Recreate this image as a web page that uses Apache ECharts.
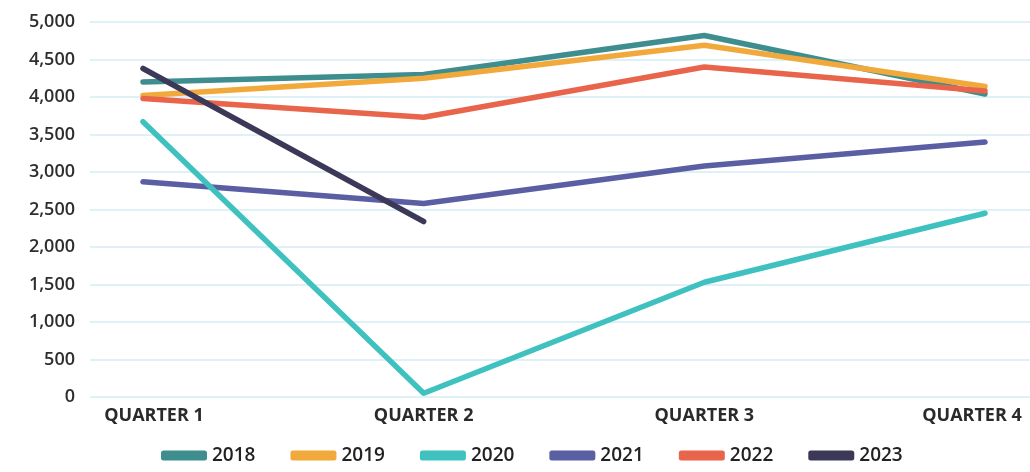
<!DOCTYPE html>
<html>
<head>
<meta charset="utf-8">
<script src="https://cdn.jsdelivr.net/npm/echarts@6/dist/echarts.min.js"></script>
<style>
html,body{margin:0;padding:0;background:#fff;}
#chart{width:1030px;height:472px;}
</style>
</head>
<body>
<div id="chart"></div>
<script>
var categories = ['QUARTER 1', 'QUARTER 2', 'QUARTER 3', 'QUARTER 4'];
var seriesNames = ['2018', '2019', '2020', '2021', '2022', '2023'];
var v2018 = [4200, 4300, 4820, 4040];
var v2019 = [4020, 4250, 4690, 4140];
var v2020 = [3670, 50, 1530, 2450];
var v2021 = [2870, 2580, 3080, 3400];
var v2022 = [3980, 3730, 4400, 4080];
var v2023 = [4380, 2340];
var yTicks = [0, 500, 1000, 1500, 2000, 2500, 3000, 3500, 4000, 4500, 5000];

var colors = ['#3e8e8f', '#f2a93b', '#3fc1c0', '#5a5fa3', '#e8654b', '#3c3958'];
var values = [v2018, v2019, v2020, v2021, v2022, v2023];
var zs = [2, 2, 4, 3, 3, 5];

var font = '"Open Sans", "Noto Sans", sans-serif';
var yMin = yTicks[0], yMax = yTicks[yTicks.length - 1], yInt = yTicks[1] - yTicks[0];

var series = seriesNames.map(function (n, i) {
  return {
    name: n, type: 'line', xAxisIndex: 1, yAxisIndex: 1,
    data: values[i], symbol: 'none', z: zs[i],
    lineStyle: { width: 5.5, color: colors[i], cap: 'round', join: 'round' },
    itemStyle: { color: colors[i] }
  };
});

var chart = echarts.init(document.getElementById('chart'), null, { renderer: 'canvas' });
chart.setOption({
  animation: false,
  backgroundColor: '#ffffff',
  color: colors,
  grid: [
    { left: 90, right: 0, top: 22, bottom: 75 },
    { left: 143, right: 45, top: 22, bottom: 75 }
  ],
  legend: {
    data: seriesNames,
    bottom: 2, left: 156,
    icon: 'roundRect', itemWidth: 46, itemHeight: 10, itemGap: 35,
    textStyle: { fontFamily: font, fontSize: 19, color: '#222', fontWeight: 600 }
  },
  xAxis: [
    { type: 'category', gridIndex: 0, show: false, data: categories },
    {
      type: 'category', gridIndex: 1, boundaryGap: false,
      data: categories.map(function (c, i) {
        var pad = [0, 0, 0, 0];
        if (i === 0) pad = [0, 0, 0, 22];
        if (i === categories.length - 1) pad = [0, 26, 0, 0];
        return { value: c, textStyle: { padding: pad } };
      }),
      axisLine: { show: false }, axisTick: { show: false },
      splitLine: { show: false },
      axisLabel: { fontFamily: font, fontSize: 18, fontWeight: 700, color: '#2a2a2a', margin: 10 }
    }
  ],
  yAxis: [
    {
      type: 'value', gridIndex: 0, min: yMin, max: yMax, interval: yInt,
      axisLine: { show: false }, axisTick: { show: false },
      splitLine: { show: true, lineStyle: { color: '#d3ecf3', width: 1.5 } },
      axisLabel: {
        fontFamily: font, fontSize: 18, fontWeight: 600, color: '#2e2e2e', margin: 15,
        formatter: function (v) { return v.toLocaleString('en-US'); }
      }
    },
    {
      type: 'value', gridIndex: 1, min: yMin, max: yMax, interval: yInt, show: false,
      splitLine: { show: false }
    }
  ],
  series: series
});
</script>
</body>
</html>
